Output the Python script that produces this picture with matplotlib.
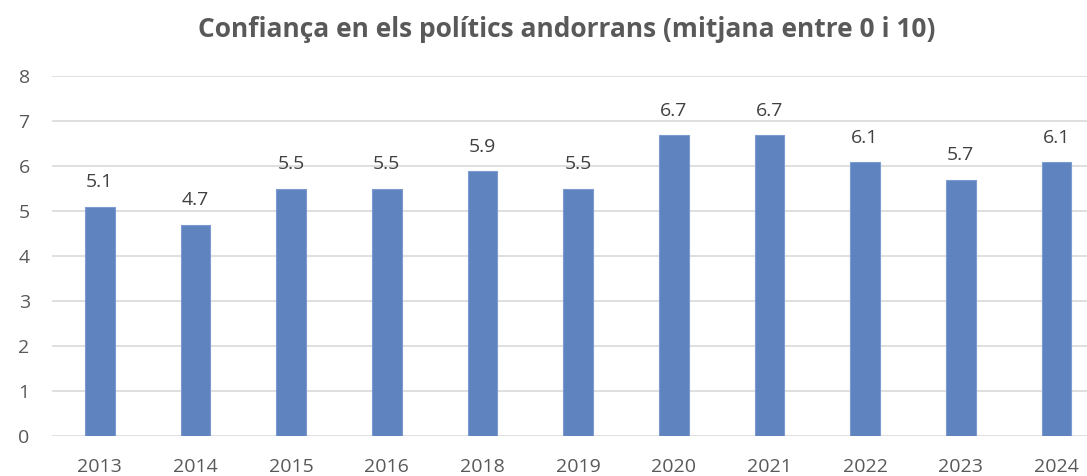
import numpy as np
import matplotlib.pyplot as plt

plt.rcParams['font.family'] = ['Open Sans', 'DejaVu Sans']

# dades
anys = ['2013', '2014', '2015', '2016', '2018', '2019', '2020', '2021', '2022', '2023', '2024']
confianca = [5.1, 4.7, 5.5, 5.5, 5.9, 5.5, 6.7, 6.7, 6.1, 5.7, 6.1]
titol = 'Confiança en els polítics andorrans (mitjana entre 0 i 10)'

fig = plt.figure(figsize=(10.87, 4.76), dpi=100)
ax = fig.add_axes([0.0478, 0.0847, 0.968, 0.7546])

x = np.arange(len(anys))
barres = ax.bar(x, confianca, width=0.31, color='#5F83BF', edgecolor='#7C9BD0', linewidth=0.8, zorder=3)

for xi, v in zip(x, confianca):
    ax.annotate(f'{v:.1f}', (xi, v), xytext=(0, 11), textcoords='offset points',
                ha='center', va='bottom', fontsize=14, color='#404040')

ax.set_xlim(-0.5, len(anys) - 0.5)
ax.set_ylim(0, 8)
ax.set_yticks(range(0, 9))
ax.set_xticks(x)
ax.set_xticklabels(anys)
ax.yaxis.grid(True, color='#D9D9D9', linewidth=1.2, zorder=0)
ax.set_axisbelow(True)
for s in ax.spines.values():
    s.set_visible(False)
ax.tick_params(axis='both', length=0, labelsize=14, labelcolor='#595959')
ax.tick_params(axis='x', pad=16)
ax.tick_params(axis='y', pad=16)

fig.text(0.5216, 0.937, titol, ha='center', va='center', fontsize=19,
         fontweight='bold', color='#595959')

fig.savefig('out.png', dpi=100)
